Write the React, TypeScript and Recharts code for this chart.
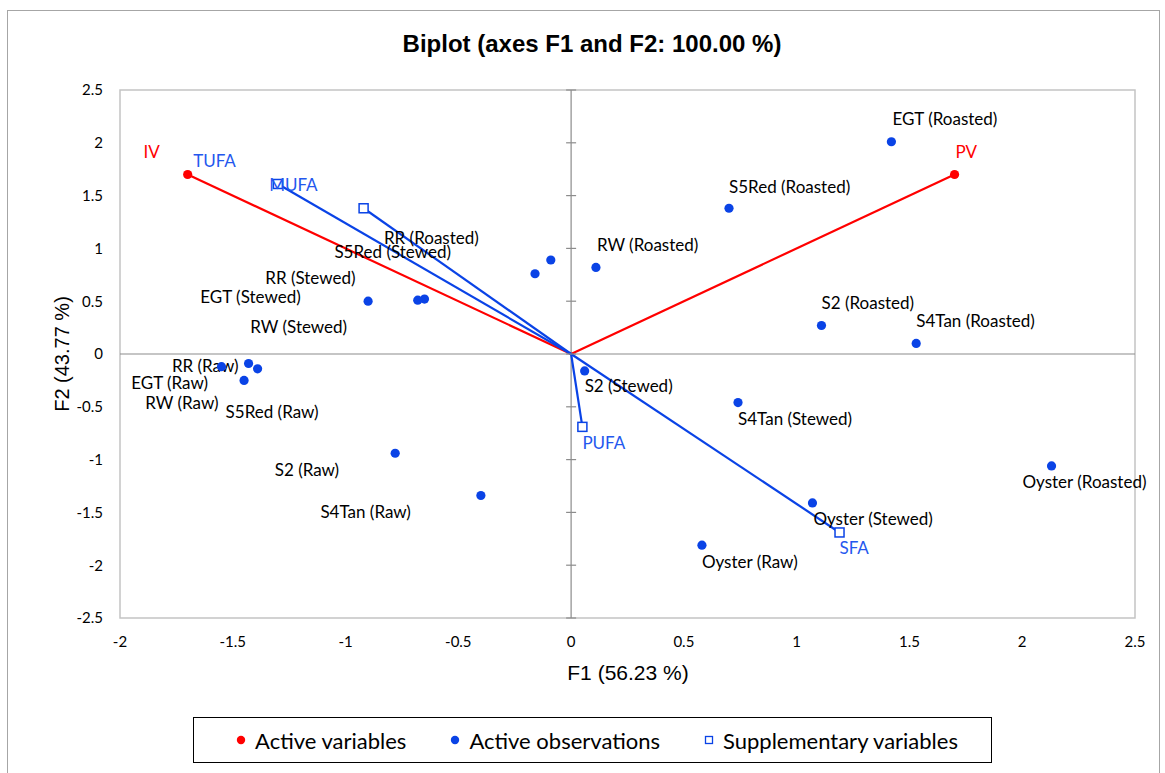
import {
  ScatterChart,
  Scatter,
  XAxis,
  YAxis,
  ReferenceLine,
  ReferenceArea,
} from "recharts";

const observationNames = [
  "EGT (Roasted)",
  "S5Red (Roasted)",
  "RW (Roasted)",
  "S2 (Roasted)",
  "S4Tan (Roasted)",
  "S2 (Stewed)",
  "S4Tan (Stewed)",
  "Oyster (Roasted)",
  "Oyster (Stewed)",
  "Oyster (Raw)",
  "S4Tan (Raw)",
  "S2 (Raw)",
  "RR (Roasted)",
  "S5Red (Stewed)",
  "RR (Stewed)",
  "EGT (Stewed)",
  "RW (Stewed)",
  "RR (Raw)",
  "EGT (Raw)",
  "RW (Raw)",
  "S5Red (Raw)",
];
const observationF1 = [
  1.42, 0.7, 0.11, 1.11, 1.53, 0.06, 0.74, 2.13, 1.07, 0.58, -0.4, -0.78,
  -0.09, -0.16, -0.65, -0.68, -0.9, -1.43, -1.45, -1.55, -1.39,
];
const observationF2 = [
  2.01, 1.38, 0.82, 0.27, 0.1, -0.16, -0.46, -1.06, -1.41, -1.81, -1.34,
  -0.94, 0.89, 0.76, 0.52, 0.51, 0.5, -0.09, -0.25, -0.12, -0.14,
];

const activeVarNames = ["IV", "PV"];
const activeVarF1 = [-1.7, 1.7];
const activeVarF2 = [1.7, 1.7];

const suppVarNames = ["TUFA", "MUFA", "PUFA", "SFA"];
const suppVarF1 = [-1.3, -0.92, 0.05, 1.19];
const suppVarF2 = [1.61, 1.38, -0.69, -1.69];

const xTicks = [-2, -1.5, -1, -0.5, 0, 0.5, 1, 1.5, 2, 2.5];
const yTicks = [-2.5, -2, -1.5, -1, -0.5, 0, 0.5, 1, 1.5, 2, 2.5];

// where each label sits relative to its marker: anchor, dx, dy (px)
const labelPlacement: Record<string, [string, number, number]> = {
  "EGT (Roasted)": ["start", 1, -23],
  "S5Red (Roasted)": ["start", 0, -22],
  "RW (Roasted)": ["start", 1, -23],
  "S2 (Roasted)": ["start", 0, -23],
  "S4Tan (Roasted)": ["start", 0, -23],
  "S2 (Stewed)": ["start", 0, 15],
  "S4Tan (Stewed)": ["start", 0, 16],
  "Oyster (Roasted)": ["start", -29, 16],
  "Oyster (Stewed)": ["start", 1, 16],
  "Oyster (Raw)": ["start", 0, 16],
  "S5Red (Raw)": ["start", -32, 43],
  PUFA: ["start", 0, 16],
  SFA: ["start", 0, 15],
  PV: ["start", 1, -23],
  IV: ["end", -28, -23],
  TUFA: ["end", -42, -23],
  MUFA: ["end", -46, -24],
  "RR (Roasted)": ["end", -72, -23],
  "S5Red (Stewed)": ["end", -84, -22],
  "RR (Stewed)": ["end", -69, -22],
  "EGT (Stewed)": ["end", -117, -4],
  "RW (Stewed)": ["end", -21, 25],
  "S2 (Raw)": ["end", -56, 16],
  "S4Tan (Raw)": ["end", -70, 16],
  "RR (Raw)": ["end", -10, 2],
  "EGT (Raw)": ["end", -36, 2],
  "RW (Raw)": ["end", -3, 36],
};

const RED = "#ff0000";
const BLUE = "#0a43e6";
const BLUE_TEXT = "#2457ee";
const LABEL_FONT = "Lato, 'Open Sans', sans-serif";
const ARIAL = "'Liberation Sans', Arial, sans-serif";

const observations = observationNames.map((name, i) => ({
  name,
  x: observationF1[i],
  y: observationF2[i],
}));
const activeVars = activeVarNames.map((name, i) => ({
  name,
  x: activeVarF1[i],
  y: activeVarF2[i],
}));
const suppVars = suppVarNames.map((name, i) => ({
  name,
  x: suppVarF1[i],
  y: suppVarF2[i],
}));
const axisTicks = yTicks.map((t) => ({ x: 0, y: t }));

function PointLabel({ cx, cy, name, color }: any) {
  const [anchor, dx, dy] = labelPlacement[name] || ["start", 0, -22];
  return (
    <text
      x={cx + dx}
      y={cy + dy}
      textAnchor={anchor}
      dominantBaseline="central"
      fontFamily={LABEL_FONT}
      fontSize={17}
      fill={color}
    >
      {name}
    </text>
  );
}

const dotShape = (color: string, textColor: string) => (props: any) => {
  const { cx, cy, payload } = props;
  return (
    <g>
      <circle cx={cx} cy={cy} r={4.6} fill={color} />
      <PointLabel cx={cx} cy={cy} name={payload.name} color={textColor} />
    </g>
  );
};

const squareShape = (props: any) => {
  const { cx, cy, payload } = props;
  return (
    <g>
      <rect
        x={cx - 4.5}
        y={cy - 4.5}
        width={9}
        height={9}
        fill="#fff"
        stroke={BLUE}
        strokeWidth={1.5}
      />
      <PointLabel cx={cx} cy={cy} name={payload.name} color={BLUE_TEXT} />
    </g>
  );
};

const tickMark = (props: any) => {
  const { cx, cy } = props;
  return (
    <line
      x1={cx - 5}
      x2={cx + 5}
      y1={cy}
      y2={cy}
      stroke="#8c8c8c"
      strokeWidth={1.2}
    />
  );
};

function LegendMarker({ kind }: { kind: string }) {
  return (
    <svg width={10} height={10} style={{ display: "block" }}>
      {kind === "square" ? (
        <rect x={1.5} y={1.5} width={7} height={7} fill="#fff" stroke={BLUE} strokeWidth={1.3} />
      ) : (
        <circle cx={5} cy={5} r={4.2} fill={kind === "red" ? RED : BLUE} />
      )}
    </svg>
  );
}

const legendItems = [
  { kind: "red", text: "Active variables" },
  { kind: "blue", text: "Active observations" },
  { kind: "square", text: "Supplementary variables" },
];

export default function App() {
  return (
    <div
      style={{
        position: "absolute",
        left: 0,
        top: 0,
        width: 1165,
        height: 773,
        overflow: "hidden",
        background: "#fff",
      }}
    >
      <div
        style={{
          position: "absolute",
          left: 7,
          top: 10,
          width: 1151,
          height: 800,
          border: "1px solid #a6a6a6",
        }}
      />
      <div
        style={{
          position: "absolute",
          left: 342,
          top: 30,
          width: 500,
          textAlign: "center",
          fontFamily: ARIAL,
          fontWeight: "bold",
          fontSize: 24,
          color: "#000",
        }}
      >
        Biplot (axes F1 and F2: 100.00 %)
      </div>

      <div style={{ position: "absolute", left: 0, top: 0 }}>
        <ScatterChart
          width={1165}
          height={773}
          margin={{ top: 90, right: 30, bottom: 115, left: 60 }}
        >
          <XAxis
            type="number"
            dataKey="x"
            domain={[-2, 2.5]}
            ticks={xTicks}
            axisLine={false}
            tickLine={false}
            height={40}
            tickMargin={12}
            tick={{ fontFamily: LABEL_FONT, fontSize: 15, fill: "#000" }}
          />
          <YAxis
            type="number"
            dataKey="y"
            domain={[-2.5, 2.5]}
            ticks={yTicks}
            axisLine={false}
            tickLine={false}
            width={60}
            tickMargin={11}
            tick={{ fontFamily: LABEL_FONT, fontSize: 15, fill: "#000" }}
          />
          <ReferenceArea
            x1={-2}
            x2={2.5}
            y1={-2.5}
            y2={2.5}
            fill="none"
            stroke="#c4c4c4"
            strokeWidth={1.5}
          />
          <ReferenceLine x={0} stroke="#8c8c8c" strokeWidth={1.2} />
          <ReferenceLine y={0} stroke="#8c8c8c" strokeWidth={1.2} />
          <Scatter data={axisTicks} shape={tickMark} isAnimationActive={false} />
          {activeVars.map((v) => (
            <ReferenceLine
              key={v.name}
              segment={[
                { x: 0, y: 0 },
                { x: v.x, y: v.y },
              ]}
              stroke={RED}
              strokeWidth={2.2}
            />
          ))}
          {suppVars.map((v) => (
            <ReferenceLine
              key={v.name}
              segment={[
                { x: 0, y: 0 },
                { x: v.x, y: v.y },
              ]}
              stroke={BLUE}
              strokeWidth={2.2}
            />
          ))}
          <Scatter
            data={observations}
            shape={dotShape(BLUE, "#000")}
            isAnimationActive={false}
          />
          <Scatter data={suppVars} shape={squareShape} isAnimationActive={false} />
          <Scatter
            data={activeVars}
            shape={dotShape(RED, RED)}
            isAnimationActive={false}
          />
        </ScatterChart>
      </div>

      <div
        style={{
          position: "absolute",
          left: 528,
          top: 661,
          width: 200,
          textAlign: "center",
          fontFamily: ARIAL,
          fontSize: 21,
          color: "#000",
        }}
      >
        F1 (56.23 %)
      </div>
      <div
        style={{
          position: "absolute",
          left: 62 - 100,
          top: 354 - 12,
          width: 200,
          height: 24,
          lineHeight: "24px",
          textAlign: "center",
          fontFamily: ARIAL,
          fontSize: 20,
          color: "#000",
          transform: "rotate(-90deg)",
        }}
      >
        F2 (43.77 %)
      </div>

      <div
        style={{
          position: "absolute",
          left: 193,
          top: 717,
          width: 799,
          height: 46,
          boxSizing: "border-box",
          border: "1px solid #000",
          display: "flex",
          alignItems: "center",
          justifyContent: "center",
          paddingLeft: 9,
          gap: 44,
          fontFamily: LABEL_FONT,
          fontSize: 22,
          color: "#000",
        }}
      >
        {legendItems.map((item) => (
          <div
            key={item.text}
            style={{ display: "flex", alignItems: "center", gap: 9 }}
          >
            <LegendMarker kind={item.kind} />
            <span>{item.text}</span>
          </div>
        ))}
      </div>
    </div>
  );
}
